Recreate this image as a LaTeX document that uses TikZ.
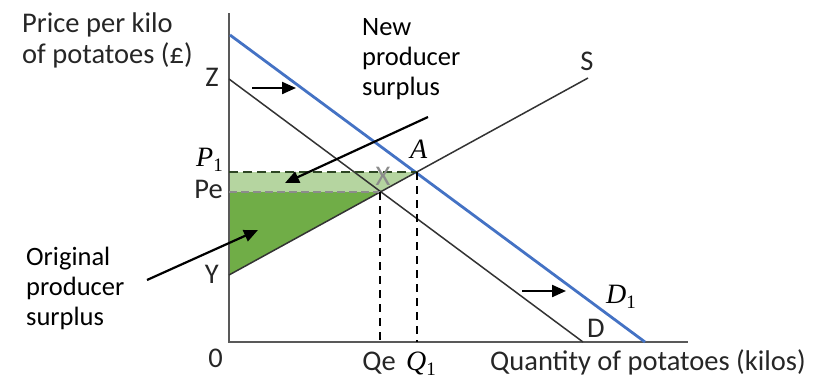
\documentclass[tikz,border=0pt]{standalone}
\usepackage{fontspec}
\setmainfont{Carlito}
\newfontfamily\serifit{Liberation Serif}
\usetikzlibrary{arrows.meta}
\definecolor{dblue}{RGB}{68,114,196}
\definecolor{lgreen}{RGB}{181,213,160}
\definecolor{dgreen}{RGB}{112,173,71}
\definecolor{dashgreen}{RGB}{45,70,35}
\newcommand{\mvar}[2]{{\serifit\itshape #1}\ifx&#2&\else\raisebox{-0.2em}{\fontsize{19}{19}\selectfont\serifit #2}\fi}
\begin{document}
\begin{tikzpicture}[x=1pt,y=-1pt,
  lbl/.style={inner sep=0pt,font=\fontsize{28.5}{31}\selectfont,text=black!85},
  txt/.style={inner sep=0pt,font=\fontsize{26.5}{30}\selectfont,text=black,align=left},
  mlbl/.style={inner sep=0pt,font=\fontsize{28}{30}\selectfont},
  axisline/.style={draw=black!65,line width=2pt},
  curve/.style={draw=black!80,line width=1.5pt},
  bluecurve/.style={draw=dblue,line width=2.8pt},
  vdash/.style={draw=black,line width=2pt,dash pattern=on 8pt off 6pt},
  callout/.style={draw=black,line width=2.2pt,-{Triangle[length=14pt,width=12pt]}},
  shiftarrow/.style={draw=black,line width=2.2pt,-{Triangle[length=14pt,width=12pt]}}]
\useasboundingbox (0,0) rectangle (822,380);
% coordinates
\coordinate (O) at (229,342);
\coordinate (ytop) at (229,13);
\coordinate (xend) at (688,342);
\coordinate (Zp) at (229,79);
\coordinate (Dend) at (583,342);
\coordinate (B0) at (230,35);
\coordinate (Bend) at (645,342);
\coordinate (Yp) at (229,275);
\coordinate (Send) at (588,78);
\coordinate (Xp) at (380,192);
\coordinate (Ap) at (417,172);
\coordinate (Pe) at (229,192);
\coordinate (P1) at (229,172);
\coordinate (Qe) at (380,342);
\coordinate (Q1) at (417,342);
% fills
\fill[lgreen] (P1) -- (Ap) -- (Xp) -- (Pe) -- cycle;
\fill[dgreen] (Pe) -- (Xp) -- (Yp) -- cycle;
% axes
\draw[axisline] (ytop) -- (O) -- (xend);
% curves
\draw[curve] (Zp) -- (Dend);
\draw[curve] (Yp) -- (Send);
\draw[bluecurve] (B0) -- (Bend);
% dashed lines
\draw[draw=black!45,line width=1.2pt,dash pattern=on 8pt off 4pt] (Pe) -- (Xp);
\draw[draw=dashgreen,line width=2pt,dash pattern=on 9pt off 5pt] (P1) -- (Ap);
\draw[vdash] (Xp) -- (Qe);
\draw[vdash] (Ap) -- (Q1);
% labels
\node[lbl,anchor=base east] (zl) at (219,86) {Z};
\node[lbl,anchor=base east] (pel) at (223,198) {Pe};
\node[lbl,anchor=base east] (yl) at (219,283) {Y};
\node[lbl,anchor=base east] (ol) at (223,367) {0};
\node[lbl,anchor=base] (qel) at (379,370) {Qe};
\node[lbl,anchor=base] (sl) at (587,70) {S};
\node[lbl,anchor=base west] (dl) at (587,337) {D};
\node[lbl,anchor=base] (xl) at (383,185) {\textcolor{black!45}{X}};
\node[mlbl,anchor=base west] (p1l) at (196,166) {\mvar{P}{1}};
\node[mlbl,anchor=base west] (al) at (410,158) {\mvar{A}{}};
\node[mlbl,anchor=base west] (q1l) at (406,370) {\mvar{Q}{1}};
\node[mlbl,anchor=base west] (d1l) at (606,303) {\mvar{D}{1}};
\node[lbl,anchor=base west] (qtyl) at (490,370) {Quantity of potatoes (kilos)};
\node[lbl,anchor=base west,align=left] (pricel) at (22,63) {Price per kilo\\of potatoes (£)};
\node[txt,anchor=base west] (newps) at (362,95) {New\\producer\\surplus};
\node[txt,anchor=base west] (origps) at (26,325) {Original\\producer\\surplus};
% arrows
\coordinate (na0) at (428,117);
\coordinate (na1) at (285,183);
\draw[callout] (na0) -- (na1);
\coordinate (oa0) at (147,280);
\coordinate (oa1) at (258,230);
\draw[callout] (oa0) -- (oa1);
\coordinate (s10) at (252,88);
\coordinate (s11) at (296,88);
\draw[shiftarrow] (s10) -- (s11);
\coordinate (s20) at (522,291);
\coordinate (s21) at (566,291);
\draw[shiftarrow] (s20) -- (s21);
\end{tikzpicture}
\end{document}
